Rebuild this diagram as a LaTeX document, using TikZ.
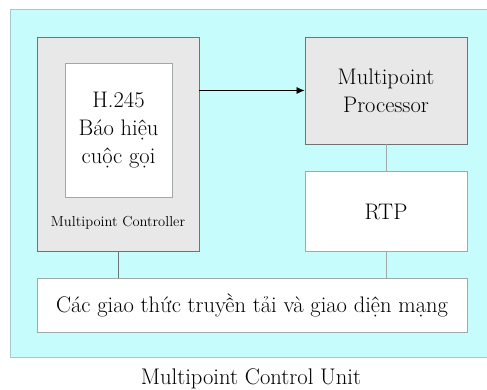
\documentclass[tikz,border=0pt]{standalone}
\usepackage{fontspec}
\usepackage{tikz}
\usetikzlibrary{arrows.meta, positioning}
\definecolor{mcucyan}{HTML}{C6FCFC}
\definecolor{mcuedge}{HTML}{A6CACA}
\definecolor{boxgray}{HTML}{E8E8E8}
\definecolor{darkedge}{HTML}{6E7474}
\definecolor{lightedge}{HTML}{A0A8A8}

\begin{document}
\begin{tikzpicture}[
        x=1pt, y=-1pt,
        node distance=27pt and 0pt,
        box/.style={draw=lightedge, line width=0.8pt, fill=white, align=center,
                    inner sep=0pt, font=\fontsize{22.5}{28}\selectfont},
        grey/.style={box, draw=darkedge, fill=boxgray},
        link/.style={draw=lightedge, line width=0.6pt},
    ]
        \useasboundingbox (0,0) rectangle (487,390);

        % khung MCU
        \fill[white] (0,0) rectangle (487,390);
        \draw[mcuedge, fill=mcucyan, line width=0.8pt] (10,9) rectangle (500,357);

        \node[grey, minimum width=162pt, minimum height=214pt] (ctrl) at (118,144) {};
        \node[box, minimum width=107pt, minimum height=134pt] (h245) at (118.5,130)
            {H.245\\Báo hiệu\\cuộc gọi};
        \node[font=\fontsize{14.5}{18}\selectfont] (ctrllbl) at (118,223) {Multipoint Controller};

        \node[grey, minimum width=162pt, minimum height=107pt] (mp) at (386,90.5)
            {Multipoint\\Processor};
        \node[box, minimum width=162pt, minimum height=80pt, below=of mp] (rtp) {RTP};

        \node[box, minimum width=430pt, minimum height=54pt]
            (net) at (252,305) {Các giao thức truyền tải và giao diện mạng};

        \draw[-{Latex[length=8pt,width=7pt]}, line width=0.7pt]
            (ctrl.east |- mp.west) -- (mp.west);
        \draw[link] (mp.south) -- (rtp.north);
        \draw[link, draw=darkedge] (ctrl.south) -- (ctrl.south |- net.north);
        \draw[link] (rtp.south) -- (rtp.south |- net.north);

        \node[font=\fontsize{22.6}{26}\selectfont] (mcu) at (251,379) {Multipoint Control Unit};
    \end{tikzpicture}
\end{document}
